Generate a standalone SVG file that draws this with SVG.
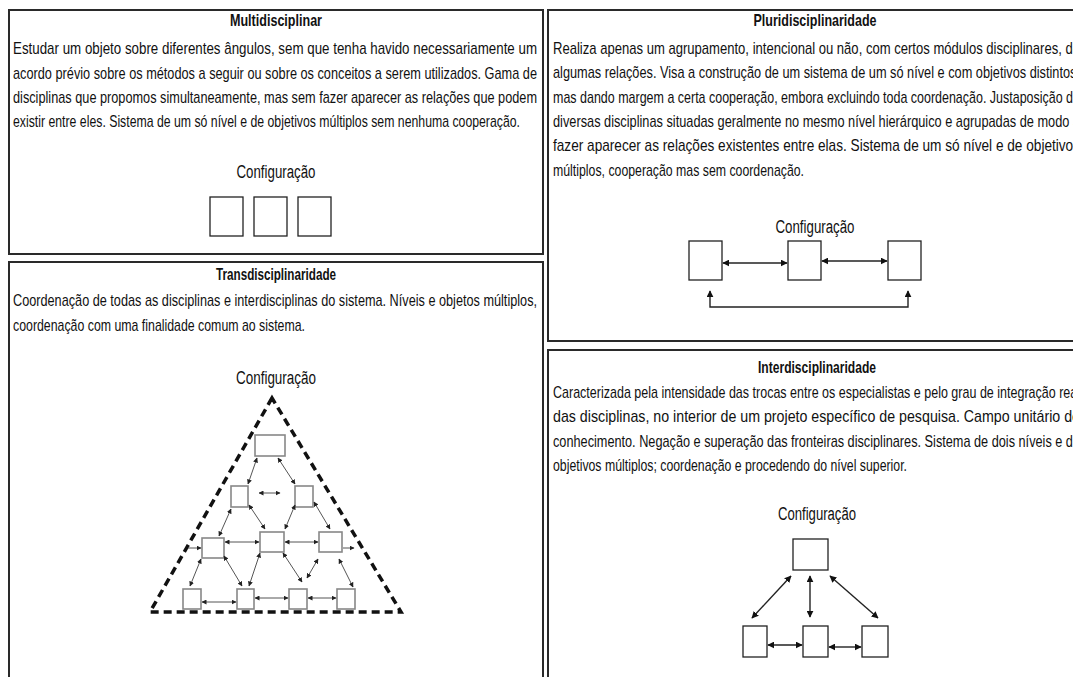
<svg xmlns="http://www.w3.org/2000/svg" width="1073" height="677" viewBox="0 0 1073 677">
<style>
.frame{fill:#fff;stroke:#2a2a2a;stroke-width:2}
.t{font-family:"Liberation Sans",Arial,sans-serif;font-size:17px;fill:#111}
.h{font-family:"Liberation Sans",Arial,sans-serif;font-size:17px;font-weight:bold;fill:#111;text-anchor:middle}
.c{font-family:"Liberation Sans",Arial,sans-serif;font-size:18px;fill:#111;text-anchor:middle}
.nb{fill:#fff;stroke:#222;stroke-width:1.3}
.gb{fill:#fff;stroke:#888;stroke-width:1.6}
.ar{fill:none;stroke:#222;stroke-width:1.4;marker-start:url(#ah);marker-end:url(#ah)}
.ag{fill:none;stroke:#555;stroke-width:1;marker-start:url(#as);marker-end:url(#as)}
.ag1{fill:none;stroke:#555;stroke-width:1;marker-end:url(#as)}
</style>
<defs>
<marker id="ah" viewBox="0 0 10 10" refX="9" refY="5" markerWidth="7" markerHeight="7" markerUnits="userSpaceOnUse" orient="auto-start-reverse"><path d="M0,0 L10,5 L0,10 z" fill="#111"/></marker>
<marker id="as" viewBox="0 0 10 10" refX="9" refY="5" markerWidth="5" markerHeight="5" markerUnits="userSpaceOnUse" orient="auto-start-reverse"><path d="M0,0 L10,5 L0,10 z" fill="#222"/></marker>
<clipPath id="rc"><rect x="548" y="0" width="525" height="677"/></clipPath>
</defs>
<rect width="1073" height="677" fill="#fff"/>

<g id="multidisciplinar">
<rect class="frame" x="9" y="10" width="534" height="244"/>
<text class="h" x="276" y="26" textLength="92" lengthAdjust="spacingAndGlyphs">Multidisciplinar</text>
<text class="t" x="13" y="54" textLength="524" lengthAdjust="spacingAndGlyphs">Estudar um objeto sobre diferentes ângulos, sem que tenha havido necessariamente um</text>
<text class="t" x="13" y="79" textLength="524" lengthAdjust="spacingAndGlyphs">acordo prévio sobre os métodos a seguir ou sobre os conceitos a serem utilizados. Gama de</text>
<text class="t" x="13" y="103" textLength="524" lengthAdjust="spacingAndGlyphs">disciplinas que propomos simultaneamente, mas sem fazer aparecer as relações  que podem</text>
<text class="t" x="13" y="127" textLength="507" lengthAdjust="spacingAndGlyphs">existir entre eles. Sistema de um só nível e de objetivos múltiplos sem nenhuma cooperação.</text>
<text class="c" x="276" y="178" textLength="79" lengthAdjust="spacingAndGlyphs">Configuração</text>
<rect class="nb" x="210" y="197" width="33" height="39"/>
<rect class="nb" x="254" y="197" width="33" height="39"/>
<rect class="nb" x="298" y="197" width="33" height="39"/>
</g>

<g id="transdisciplinaridade">
<rect class="frame" x="9" y="262" width="534" height="425"/>
<text class="h" x="276" y="280" textLength="120" lengthAdjust="spacingAndGlyphs">Transdisciplinaridade</text>
<text class="t" x="13" y="306" textLength="524" lengthAdjust="spacingAndGlyphs">Coordenação de todas as disciplinas e interdisciplinas do sistema. Níveis e objetos múltiplos,</text>
<text class="t" x="13" y="331" textLength="292" lengthAdjust="spacingAndGlyphs">coordenação com uma finalidade comum ao sistema.</text>
<text class="c" x="276" y="384" textLength="80" lengthAdjust="spacingAndGlyphs">Configuração</text>
<path d="M272,398 L150,612 L401,612 Z" fill="none" stroke="#111" stroke-width="3.5" stroke-dasharray="8,5" stroke-linejoin="miter"/>
<g id="tri-nodes">
<rect class="gb" x="255" y="435" width="30" height="21"/>
<rect class="gb" x="231" y="486" width="17" height="21"/>
<rect class="gb" x="295" y="486" width="18" height="21"/>
<rect class="gb" x="202" y="538" width="22" height="20"/>
<rect class="gb" x="260" y="532" width="24" height="20"/>
<rect class="gb" x="319" y="532" width="23" height="20"/>
<rect class="gb" x="183" y="589" width="18" height="20"/>
<rect class="gb" x="237" y="589" width="17" height="20"/>
<rect class="gb" x="289" y="589" width="18" height="20"/>
<rect class="gb" x="337" y="589" width="18" height="20"/>
</g>
</g>

<g id="pluridisciplinaridade">
<rect class="frame" x="548" y="10" width="540" height="331"/>
<text class="h" x="815" y="26" textLength="123" lengthAdjust="spacingAndGlyphs">Pluridisciplinaridade</text>
<g clip-path="url(#rc)">
<text class="t" x="553" y="54" textLength="527" lengthAdjust="spacingAndGlyphs">Realiza apenas um agrupamento, intencional ou não, com certos módulos disciplinares, de</text>
<text class="t" x="553" y="78" textLength="527" lengthAdjust="spacingAndGlyphs">algumas relações. Visa a construção de um sistema de um só nível e com objetivos distintos,</text>
<text class="t" x="553" y="103" textLength="527" lengthAdjust="spacingAndGlyphs">mas dando margem a certa cooperação, embora excluindo toda coordenação. Justaposição de</text>
<text class="t" x="553" y="127" textLength="527" lengthAdjust="spacingAndGlyphs">diversas disciplinas situadas geralmente no mesmo nível hierárquico e agrupadas de modo a</text>
<text class="t" x="553" y="151" textLength="527" lengthAdjust="spacingAndGlyphs">fazer aparecer as relações existentes entre elas. Sistema de um só nível e de objetivos</text>
</g>
<text class="t" x="553" y="176" textLength="251" lengthAdjust="spacingAndGlyphs">múltiplos, cooperação mas sem coordenação.</text>
<text class="c" x="815" y="233" textLength="79" lengthAdjust="spacingAndGlyphs">Configuração</text>
<rect class="nb" x="689" y="241" width="33" height="39"/>
<rect class="nb" x="788" y="241" width="33" height="39"/>
<rect class="nb" x="888" y="241" width="33" height="39"/>
</g>

<g id="interdisciplinaridade">
<rect class="frame" x="548" y="350" width="540" height="340"/>
<text class="h" x="817" y="373" textLength="118" lengthAdjust="spacingAndGlyphs">Interdisciplinaridade</text>
<g clip-path="url(#rc)">
<text class="t" x="553" y="398" textLength="527" lengthAdjust="spacingAndGlyphs">Caracterizada pela intensidade das trocas entre os especialistas e pelo grau de integração real</text>
<text class="t" x="553" y="422" textLength="527" lengthAdjust="spacingAndGlyphs">das disciplinas, no interior de um projeto específico de pesquisa. Campo unitário de</text>
<text class="t" x="553" y="447" textLength="527" lengthAdjust="spacingAndGlyphs">conhecimento. Negação e superação das fronteiras disciplinares. Sistema de dois níveis e de</text>
</g>
<text class="t" x="553" y="471" textLength="354" lengthAdjust="spacingAndGlyphs">objetivos múltiplos; coordenação e procedendo do nível superior.</text>
<text class="c" x="817" y="520" textLength="78" lengthAdjust="spacingAndGlyphs">Configuração</text>
<rect class="nb" x="793" y="539" width="35" height="31"/>
<rect class="nb" x="743" y="626" width="24" height="31"/>
<rect class="nb" x="803" y="626" width="25" height="31"/>
<rect class="nb" x="862" y="626" width="26" height="31"/>
</g>

<g id="connectors">
<line class="ar" x1="723" y1="263" x2="787" y2="263"/>
<line class="ar" x1="822" y1="261" x2="887" y2="261"/>
<path class="ar" d="M710,291 V307 H908 V291"/>
<line class="ar" x1="791" y1="576" x2="752" y2="618"/>
<line class="ar" x1="810" y1="576" x2="810" y2="617"/>
<line class="ar" x1="830" y1="576" x2="878" y2="618"/>
<line class="ar" x1="768" y1="645" x2="802" y2="645"/>
<line class="ar" x1="829" y1="647" x2="861" y2="647"/>
<line class="ag" x1="257" y1="458" x2="248" y2="484"/>
<line class="ag" x1="278" y1="458" x2="295" y2="484"/>
<line class="ag" x1="259" y1="493" x2="280" y2="493"/>
<line class="ag" x1="249" y1="505" x2="265" y2="529"/>
<line class="ag" x1="295" y1="505" x2="285" y2="529"/>
<line class="ag" x1="314" y1="502" x2="330" y2="529"/>
<line class="ag" x1="231" y1="509" x2="219" y2="536"/>
<line class="ag" x1="225" y1="542" x2="259" y2="542"/>
<line class="ag" x1="285" y1="542" x2="318" y2="542"/>
<line class="ag1" x1="188" y1="548" x2="201" y2="548"/>
<line class="ag1" x1="343" y1="548" x2="354" y2="548"/>
<line class="ag" x1="201" y1="559" x2="190" y2="586"/>
<line class="ag" x1="224" y1="556" x2="242" y2="586"/>
<line class="ag" x1="260" y1="553" x2="249" y2="586"/>
<line class="ag" x1="283" y1="553" x2="302" y2="582"/>
<line class="ag" x1="318" y1="559" x2="307" y2="578"/>
<line class="ag" x1="339" y1="559" x2="353" y2="587"/>
<line class="ag" x1="202" y1="602" x2="236" y2="602"/>
<line class="ag" x1="255" y1="598" x2="288" y2="598"/>
<line class="ag" x1="308" y1="598" x2="336" y2="598"/>
</g>
</svg>
